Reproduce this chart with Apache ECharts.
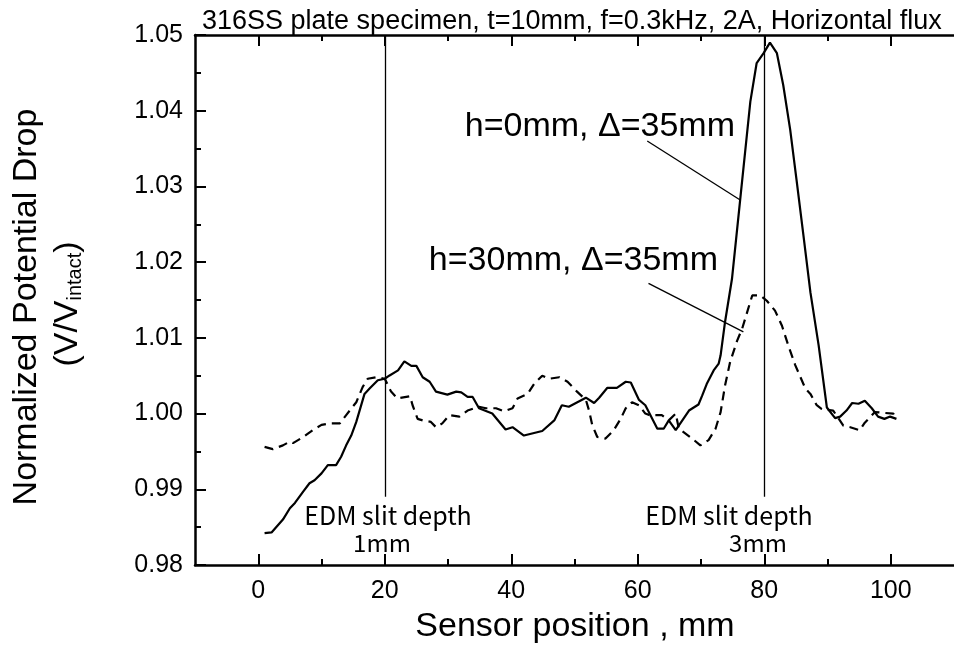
<!DOCTYPE html>
<html><head><meta charset="utf-8">
<script src="https://cdn.jsdelivr.net/npm/echarts@6/dist/echarts.min.js"></script>
<style>html,body{margin:0;padding:0;background:#fff}#c{width:954px;height:659px}</style>
</head><body><div id="c"></div>
<script>
// h=0mm, Δ=35mm (solid)
const solidX = [1.0,2.1,3.9,5.0,5.8,7.1,8.1,8.9,10.0,11.0,12.3,13.1,13.9,14.7,15.5,16.8,17.6,18.9,20.0,20.7,22.1,23.1,24.2,25.0,26.0,27.1,28.1,29.9,31.3,32.1,33.1,33.9,34.9,37.0,39.1,40.2,42.0,44.9,46.8,48.0,49.1,51.8,53.1,53.9,55.2,56.7,58.1,58.9,60.2,61.2,63.1,64.1,64.9,66.0,68.1,69.6,70.2,70.9,72.0,72.8,73.1,73.8,74.9,76.2,77.8,78.8,79.9,80.9,82.0,83.0,84.1,85.1,86.2,87.3,88.6,89.9,91.2,92.0,93.0,93.9,94.9,95.9,97.0,98.0,99.0,99.9,100.9];
const solidY = [0.9842,0.9843,0.9860,0.9875,0.9882,0.9897,0.9908,0.9912,0.9921,0.9932,0.9932,0.9943,0.9958,0.9971,0.9989,1.0026,1.0033,1.0044,1.0046,1.0050,1.0057,1.0069,1.0063,1.0063,1.0048,1.0042,1.0029,1.0025,1.0029,1.0028,1.0022,1.0022,1.0007,1.0000,0.9979,0.9982,0.9971,0.9977,0.9991,1.0011,1.0009,1.0021,1.0014,1.0021,1.0034,1.0034,1.0042,1.0041,1.0018,1.0011,0.9980,0.9980,0.9991,0.9978,1.0004,1.0012,1.0024,1.0039,1.0057,1.0066,1.0077,1.0121,1.0178,1.0283,1.0412,1.0463,1.0476,1.0490,1.0476,1.0434,1.0375,1.0309,1.0235,1.0160,1.0090,1.0008,0.9994,0.9996,1.0004,1.0014,1.0013,1.0017,1.0007,0.9996,0.9993,0.9996,0.9993];
// h=30mm, Δ=35mm (dashed)
const dashX = [1.0,2.3,3.9,5.0,5.5,7.1,8.6,10.0,11.3,12.9,13.9,15.5,16.5,17.3,18.6,20.0,21.0,22.0,24.0,24.4,25.2,26.0,27.3,28.1,29.1,30.2,31.8,33.1,34.9,36.0,37.6,38.9,40.2,41.0,42.6,43.6,44.9,46.0,47.6,48.9,50.4,51.8,52.3,52.8,53.6,54.9,56.2,57.3,58.1,59.1,60.2,61.2,61.8,63.8,64.9,66.0,66.5,68.6,69.9,71.2,72.3,73.1,73.8,74.6,75.7,76.5,77.3,78.1,79.4,80.4,81.7,82.8,83.8,84.9,86.5,87.3,88.3,89.1,90.9,92.5,93.6,95.1,95.9,97.5,98.8,100.4,100.9];
const dashY = [0.9956,0.9953,0.9958,0.9963,0.9961,0.9969,0.9978,0.9985,0.9987,0.9987,0.9998,1.0015,1.0035,1.0046,1.0048,1.0046,1.0029,1.0020,1.0023,1.0011,0.9993,0.9991,0.9989,0.9982,0.9987,0.9998,0.9996,1.0004,1.0009,1.0007,1.0007,1.0003,1.0007,1.0020,1.0026,1.0039,1.0050,1.0046,1.0048,1.0042,1.0029,1.0018,1.0004,0.9985,0.9969,0.9967,0.9978,0.9993,1.0007,1.0015,1.0011,1.0000,0.9998,0.9998,0.9991,1.0000,0.9980,0.9967,0.9958,0.9965,0.9980,1.0002,1.0037,1.0068,1.0096,1.0112,1.0134,1.0156,1.0156,1.0149,1.0136,1.0116,1.0090,1.0064,1.0033,1.0026,1.0011,1.0006,1.0004,0.9984,0.9982,0.9978,0.9988,1.0002,1.0001,1.0000,0.9993];

const xMajorTicks = [0, 20, 40, 60, 80, 100];
const xMinorTicks = [10, 30, 50, 70, 90];
const slitX = [20, 80];
const slitRange = [1.05, 0.989];
const slitLine1 = ['EDM slit depth', 'EDM slit depth'];
const slitLine2 = ['1mm', '3mm'];
// leader lines: [x1, y1, x2, y2] in data units
const leaderSolid = [61.5, 1.0360, 76.2, 1.0282];
const leaderDash = [61.7, 1.0172, 76.7, 1.0108];
const labelSolid = 'h=0mm, \u0394=35mm';
const labelDash = 'h=30mm, \u0394=35mm';
const titleText = '316SS plate specimen, t=10mm, f=0.3kHz, 2A, Horizontal flux';
const xTitle = 'Sensor position , mm';
const yTitle1 = 'Normalized Potential Drop';

const FONT = '"Liberation Sans", Arial, sans-serif';
const JFONT = '"Noto Sans CJK JP", sans-serif';
const chart = echarts.init(document.getElementById('c'), null, {renderer: 'canvas'});

const toPairs = (xs, ys) => xs.map((x, i) => [x, ys[i]]);
const baseX = {
  type: 'value', min: -10, max: 110, gridIndex: 0,
  splitLine: {show: false},
  axisLine: {show: true, onZero: false, lineStyle: {color: '#000', width: 2.5}},
};

const option = {
  animation: false,
  backgroundColor: '#fff',
  grid: {left: 195, top: 35, width: 761, height: 530, containLabel: false},
  title: {
    text: titleText, left: 197, top: 3,
    textStyle: {fontFamily: FONT, fontSize: 27, fontWeight: 'normal', color: '#000'}
  },
  xAxis: [
    Object.assign({}, baseX, {
      position: 'bottom',
      axisTick: {show: true, inside: true, length: 11, lineStyle: {color: '#000', width: 2}, customValues: xMajorTicks},
      axisLabel: {show: true, margin: 14, fontFamily: FONT, fontSize: 25, color: '#000', customValues: xMajorTicks}
    }),
    Object.assign({}, baseX, {
      position: 'bottom', axisLine: {show: false},
      axisTick: {show: true, inside: true, length: 6, lineStyle: {color: '#000', width: 2}, customValues: xMinorTicks},
      axisLabel: {show: false}
    }),
    Object.assign({}, baseX, {
      position: 'top',
      axisTick: {show: true, inside: true, length: 11, lineStyle: {color: '#000', width: 2}, customValues: xMajorTicks},
      axisLabel: {show: false}
    }),
    Object.assign({}, baseX, {
      position: 'top', axisLine: {show: false},
      axisTick: {show: true, inside: true, length: 6, lineStyle: {color: '#000', width: 2}, customValues: xMinorTicks},
      axisLabel: {show: false}
    })
  ],
  yAxis: [{
    type: 'value', min: 0.98, max: 1.05, interval: 0.01,
    splitLine: {show: false},
    axisLine: {show: true, onZero: false, lineStyle: {color: '#000', width: 2.5}},
    axisTick: {show: true, inside: true, length: 11, lineStyle: {color: '#000', width: 2}},
    minorTick: {show: true, splitNumber: 2, length: 6, lineStyle: {color: '#000', width: 2}},
    axisLabel: {margin: 12, fontFamily: FONT, fontSize: 25, color: '#000', formatter: v => v.toFixed(2)}
  }],
  series: [
    {
      type: 'line', name: labelSolid, data: toPairs(solidX, solidY), symbol: 'none',
      lineStyle: {color: '#000', width: 2.2}, z: 3,
      markLine: {
        silent: true, symbol: 'none', label: {show: false},
        lineStyle: {color: '#000', width: 1.3, type: 'solid'},
        data: [
          [{coord: [slitX[0], slitRange[0]]}, {coord: [slitX[0], slitRange[1]]}],
          [{coord: [slitX[1], slitRange[0]]}, {coord: [slitX[1], slitRange[1]]}],
          [{coord: [leaderSolid[0], leaderSolid[1]]}, {coord: [leaderSolid[2], leaderSolid[3]]}],
          [{coord: [leaderDash[0], leaderDash[1]]}, {coord: [leaderDash[2], leaderDash[3]]}]
        ]
      }
    },
    {
      type: 'line', name: labelDash, data: toPairs(dashX, dashY), symbol: 'none',
      lineStyle: {color: '#000', width: 2.2, type: [9, 6]}, z: 3
    }
  ],
  graphic: [
    {type: 'text', x: 735, y: 127, style: {text: labelSolid, font: '34px ' + FONT, fill: '#000', align: 'right', verticalAlign: 'middle'}},
    {type: 'text', x: 718, y: 261, style: {text: labelDash, font: '34px ' + FONT, fill: '#000', align: 'right', verticalAlign: 'middle'}},
    {type: 'text', x: 388, y: 515, style: {text: slitLine1[0], font: '25px ' + JFONT, fill: '#000', align: 'center', verticalAlign: 'middle'}},
    {type: 'text', x: 382, y: 543, style: {text: slitLine2[0], font: '24px ' + JFONT, fill: '#000', align: 'center', verticalAlign: 'middle'}},
    {type: 'text', x: 729, y: 515, style: {text: slitLine1[1], font: '25px ' + JFONT, fill: '#000', align: 'center', verticalAlign: 'middle'}},
    {type: 'text', x: 758, y: 543, style: {text: slitLine2[1], font: '24px ' + JFONT, fill: '#000', align: 'center', verticalAlign: 'middle'}},
    {type: 'text', x: 575, y: 627, style: {text: xTitle, font: '34px ' + FONT, fill: '#000', align: 'center', verticalAlign: 'middle'}},
    {type: 'text', x: 27, y: 307, rotation: Math.PI / 2, style: {text: yTitle1, font: '34px ' + FONT, fill: '#000', align: 'center', verticalAlign: 'middle'}},
    {type: 'text', x: 68, y: 304, rotation: Math.PI / 2, style: {
      text: '{a|(V/V}{b|intact}{a|)}', align: 'center', verticalAlign: 'middle', fill: '#000',
      rich: {a: {font: '34px ' + FONT, fill: '#000'}, b: {font: '20px ' + FONT, fill: '#000', padding: [14, 0, 0, 0]}}
    }}
  ]
};
chart.setOption(option);
</script>
</body></html>
